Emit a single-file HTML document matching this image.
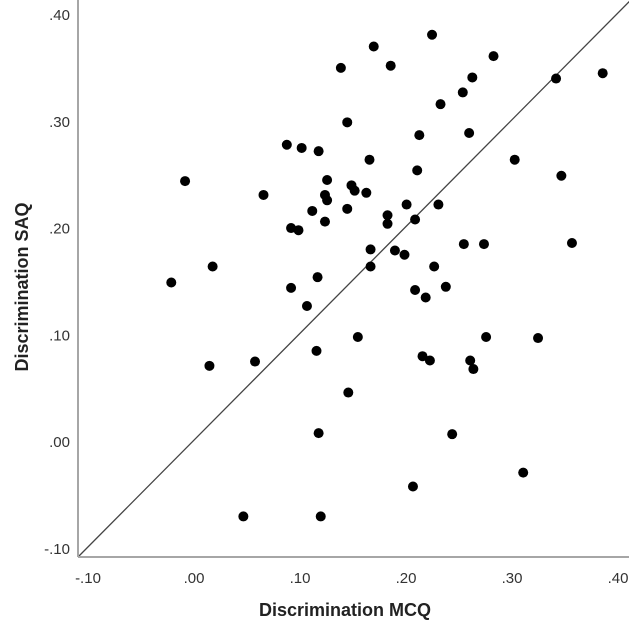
<!DOCTYPE html>
<html><head><meta charset="utf-8"><style>
html,body{margin:0;padding:0;background:#fff;}
svg{display:block;font-family:"Liberation Sans",Arial,sans-serif;}
</style></head><body>
<svg id="chart" width="629" height="630" viewBox="0 0 629 630" xmlns="http://www.w3.org/2000/svg"></svg>
<script>
const xTicks = [-0.1, 0.0, 0.1, 0.2, 0.3, 0.4];
const yTicks = [-0.1, 0.0, 0.1, 0.2, 0.3, 0.4];
const tickLabels = ["-.10", ".00", ".10", ".20", ".30", ".40"];
const mcqValues = [0.179,0.148,0.154,0.097,0.111,0.127,0.175,0.001,0.135,0.158,0.161,0.172,0.075,0.133,0.135,0.121,0.154,0.133,0.101,0.108,0.176,0.027,0.176,0.234,0.195,0.292,0.272,0.263,0.242,0.351,0.395,0.222,0.269,0.220,0.312,0.356,0.210,0.240,0.192,0.192,0.218,0.199,0.208,0.264,0.283,0.366,0.236,-0.012,0.101,0.126,0.116,0.164,0.125,0.024,0.067,0.155,0.127,0.056,0.129,0.218,0.247,0.228,0.285,0.334,0.225,0.232,0.270,0.273,0.253,0.216,0.320];
const saqValues = [0.378,0.358,0.307,0.286,0.283,0.280,0.272,0.252,0.253,0.248,0.243,0.241,0.239,0.239,0.234,0.224,0.226,0.214,0.208,0.206,0.188,0.172,0.172,0.389,0.360,0.369,0.349,0.335,0.324,0.348,0.353,0.295,0.297,0.262,0.272,0.257,0.230,0.230,0.220,0.212,0.216,0.187,0.183,0.193,0.193,0.194,0.172,0.157,0.152,0.162,0.135,0.106,0.093,0.079,0.083,0.054,0.016,-0.062,-0.062,0.150,0.153,0.143,0.106,0.105,0.088,0.084,0.084,0.076,0.015,-0.034,-0.021];

const NS = "http://www.w3.org/2000/svg";
const svg = document.getElementById("chart");
const X0 = 78, XS = 1060, Y0 = 557, YS = 1068;
function xScale(v){ return X0 + (v + 0.1) * XS; }
function yScale(v){ return Y0 - (v + 0.1) * YS; }
function mk(tag, attrs){ const e = document.createElementNS(NS, tag); for (const k in attrs) e.setAttribute(k, attrs[k]); svg.appendChild(e); return e; }

const vMax = 0.425;
const ref = mk("line", {x1:xScale(-0.1), y1:yScale(-0.1), x2:xScale(vMax), y2:yScale(vMax), stroke:"#444", "stroke-width":1.3});



const yAxis = mk("line", {x1:X0, y1:0, x2:X0, y2:Y0, stroke:"#a6a6a6", "stroke-width":2});


const xAxis = mk("line", {x1:X0, y1:Y0, x2:629, y2:Y0, stroke:"#a6a6a6", "stroke-width":2});



xTicks.forEach((v, i) => {
  const t = mk("text", {x:xScale(v) + 10, y:Y0 + 26, "text-anchor":"middle", "font-size":15, fill:"#333"});
  t.textContent = tickLabels[i];
  
  
});
yTicks.forEach((v, i) => {
  const t = mk("text", {x:70, y:yScale(v) - 8 + 5, "text-anchor":"end", "font-size":15, fill:"#333"});
  t.textContent = tickLabels[i];
  
  
});

mcqValues.forEach((v, i) => {
  const c = mk("circle", {cx:xScale(v), cy:yScale(saqValues[i]), r:5, fill:"#000"});
  
  
});

const xt = mk("text", {x:345, y:616, "text-anchor":"middle", "font-size":18, "font-weight":"bold", fill:"#222"});
xt.textContent = "Discrimination MCQ";


const yt = mk("text", {x:0, y:0, "text-anchor":"middle", "font-size":18, "font-weight":"bold", fill:"#222", transform:"translate(28,287) rotate(-90)"});
yt.textContent = "Discrimination SAQ";


</script>
</body></html>
